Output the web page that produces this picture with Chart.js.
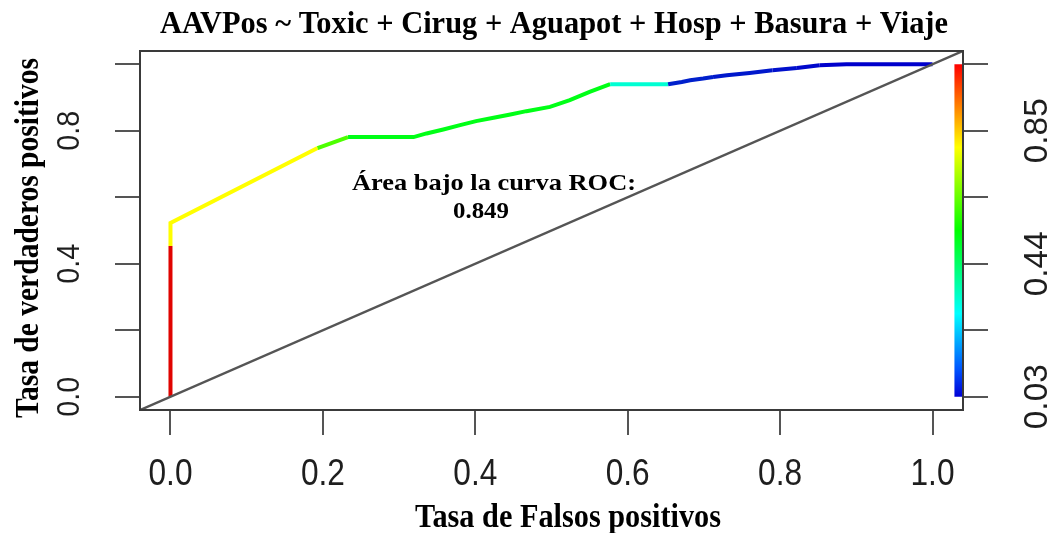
<!DOCTYPE html>
<html lang="es">
<head>
<meta charset="UTF-8" />
<title>Curva ROC</title>
<script src="https://cdn.jsdelivr.net/npm/chart.js"></script>
<style>
  html, body { margin: 0; padding: 0; background: #fff; }
  canvas { display: block; }
</style>
</head>
<body>
<canvas id="roc" width="1053" height="533"></canvas>
<script>
// ROC curve of the logistic model, points ordered by decreasing cutoff
const fpr = [0, 0, 0, 0.193, 0.233, 0.319, 0.336, 0.358, 0.380, 0.401, 0.424, 0.446, 0.467, 0.498, 0.524, 0.550, 0.577,
  0.653, 0.671, 0.682, 0.699, 0.712, 0.730, 0.760, 0.790, 0.822, 0.852, 0.887, 1.0];
const tpr = [0, 0.453, 0.523, 0.748, 0.781, 0.781, 0.792, 0.804, 0.817, 0.829, 0.839, 0.849, 0.859, 0.872, 0.892, 0.917, 0.940,
  0.940, 0.947, 0.952, 0.957, 0.962, 0.967, 0.974, 0.982, 0.989, 0.997, 1.0, 1.0];
const cutoffs = [1.06, 1.05, 0.80, 0.80, 0.62, 0.52, 0.52, 0.52, 0.52, 0.52, 0.52, 0.52, 0.52, 0.52, 0.52, 0.52, 0.52,
  0.33, 0.07, 0.07, 0.07, 0.07, 0.06, 0.06, 0.06, 0.05, 0.04, 0.03, 0.03];

const xTicks = [0, 0.2, 0.4, 0.6, 0.8, 1.0];
const xTickLabels = ['0.0', '0.2', '0.4', '0.6', '0.8', '1.0'];
const yTicks = [0, 0.2, 0.4, 0.6, 0.8, 1.0];
const yTickLabels = ['0.0', '', '0.4', '', '0.8', ''];
const cutTickLabels = ['0.03', '', '0.44', '', '0.85', ''];

const titleText = 'AAVPos ~ Toxic + Cirug + Aguapot + Hosp + Basura + Viaje';
const xTitle = 'Tasa de Falsos positivos';
const yTitle = 'Tasa de verdaderos positivos';
const aucLabel = 'Área bajo la curva ROC:';
const aucValue = 0.849;

// cutoff range covered by the colour key (bottom -> top)
const CUT_MIN = 0.03, CUT_MAX = 1.055;
const PAD = 0.04;          // R-style 4% axis extension
const BAR_X = 1.034;       // colour key sits at the right edge

function cutColor(c) {
  let t = (c - CUT_MIN) / (CUT_MAX - CUT_MIN);
  t = Math.max(0, Math.min(1, t));
  const h = 240 * (1 - t);
  // the blue end of the curve reads darker than the pure hue
  const l = h > 200 ? 40 : (h < 20 ? 44 : 50);
  return `hsl(${h}, 100%, ${l}%)`;
}

const curve = fpr.map((x, i) => ({ x, y: tpr[i] }));

const serif = '"Liberation Serif", "DejaVu Serif", serif';
const sans = '"Liberation Sans", Arial, sans-serif';

function fitText(ctx, text, x, y, width, angle) {
  ctx.save();
  ctx.translate(x, y);
  if (angle) ctx.rotate(angle);
  const w = ctx.measureText(text).width;
  ctx.scale(width / w, 1);
  ctx.fillText(text, 0, 0);
  ctx.restore();
}

const decorations = {
  id: 'decorations',
  afterDatasetsDraw(chart) {
    const { ctx, chartArea: a, scales } = chart;
    const sx = scales.x, sy = scales.y;
    ctx.save();
    // plot box
    ctx.strokeStyle = '#3a3a3a';
    ctx.lineWidth = 2;
    ctx.strokeRect(a.left, a.top, a.right - a.left, a.bottom - a.top);

    ctx.textAlign = 'center';
    ctx.textBaseline = 'alphabetic';

    // tick labels
    ctx.fillStyle = '#1e1e1e';
    ctx.font = `36px ${sans}`;
    const xW = 44 / ctx.measureText('0.0').width;
    xTicks.forEach((v, i) => {
      const lbl = xTickLabels[i];
      fitText(ctx, lbl, sx.getPixelForValue(v), 485, ctx.measureText(lbl).width * xW);
    });
    ctx.font = `31px ${sans}`;
    const yW = 40 / ctx.measureText('0.0').width;
    yTicks.forEach((v, i) => {
      const lbl = yTickLabels[i];
      if (!lbl) return;
      fitText(ctx, lbl, 79, sy.getPixelForValue(v), ctx.measureText(lbl).width * yW, -Math.PI / 2);
    });
    ctx.font = `33px ${sans}`;
    const cW = 65 / ctx.measureText('0.85').width;
    yTicks.forEach((v, i) => {
      const lbl = cutTickLabels[i];
      if (!lbl) return;
      fitText(ctx, lbl, 1047, sy.getPixelForValue(v), ctx.measureText(lbl).width * cW, -Math.PI / 2);
    });

    // titles
    ctx.fillStyle = '#000';
    ctx.font = `bold 32px ${serif}`;
    fitText(ctx, titleText, 554, 33, 788);
    ctx.font = `bold 34px ${serif}`;
    fitText(ctx, xTitle, 568, 527, 306);
    ctx.font = `bold 33px ${serif}`;
    fitText(ctx, yTitle, 38, 238, 360, -Math.PI / 2);

    // AUC annotation
    ctx.font = `bold 23px ${serif}`;
    fitText(ctx, aucLabel, 494, 190, 284);
    fitText(ctx, aucValue.toFixed(3), 481, 218, 56);
    ctx.restore();
  }
};

const axisGrid = { drawOnChartArea: false, drawTicks: true, tickLength: 25, color: '#555', lineWidth: 2 };
function fixedTicks(values) {
  return scale => { scale.ticks = values.map(value => ({ value })); };
}

new Chart(document.getElementById('roc'), {
  type: 'scatter',
  data: {
    datasets: [
      {
        // chance line
        data: [{ x: -PAD, y: -PAD }, { x: 1 + PAD, y: 1 + PAD }],
        showLine: true,
        borderColor: '#555',
        borderWidth: 2.5,
        pointRadius: 0
      },
      {
        // colour key for the cutoffs
        data: [{ x: BAR_X, y: 0 }, { x: BAR_X, y: 1 }],
        showLine: true,
        borderWidth: 8,
        borderCapStyle: 'butt',
        pointRadius: 0,
        borderColor(context) {
          const chart = context.chart;
          const sy = chart.scales.y;
          if (!chart.chartArea || !sy) return '#f00';
          const y0 = sy.getPixelForValue(0), y1 = sy.getPixelForValue(1);
          if (!isFinite(y0) || !isFinite(y1)) return '#f00';
          const g = chart.ctx.createLinearGradient(0, y0, 0, y1);
          for (let k = 0; k <= 12; k++) {
            const t = k / 12;
            g.addColorStop(t, `hsl(${240 * (1 - t)}, 100%, ${t < 0.08 ? 42 : 50}%)`);
          }
          return g;
        }
      },
      {
        data: curve,
        showLine: true,
        borderWidth: 4,
        pointRadius: 0,
        borderColor: cutColor(cutoffs[0]),
        segment: {
          borderColor: c => cutColor(cutoffs[c.p1DataIndex])
        }
      }
    ]
  },
  options: {
    responsive: false,
    animation: false,
    events: [],
    layout: { padding: { left: 115, right: 65, top: 51, bottom: 98 } },
    plugins: { legend: { display: false }, tooltip: { enabled: false }, title: { display: false } },
    scales: {
      x: {
        type: 'linear', position: 'bottom', min: -PAD, max: 1 + PAD,
        afterBuildTicks: fixedTicks(xTicks),
        ticks: { display: false },
        grid: axisGrid,
        border: { display: false }
      },
      y: {
        type: 'linear', position: 'left', min: -PAD, max: 1 + PAD,
        afterBuildTicks: fixedTicks(yTicks),
        ticks: { display: false },
        grid: axisGrid,
        border: { display: false }
      },
      y2: {
        type: 'linear', position: 'right', min: -PAD, max: 1 + PAD,
        afterBuildTicks: fixedTicks(yTicks),
        ticks: { display: false },
        grid: axisGrid,
        border: { display: false }
      }
    }
  },
  plugins: [decorations]
});
</script>
</body>
</html>
